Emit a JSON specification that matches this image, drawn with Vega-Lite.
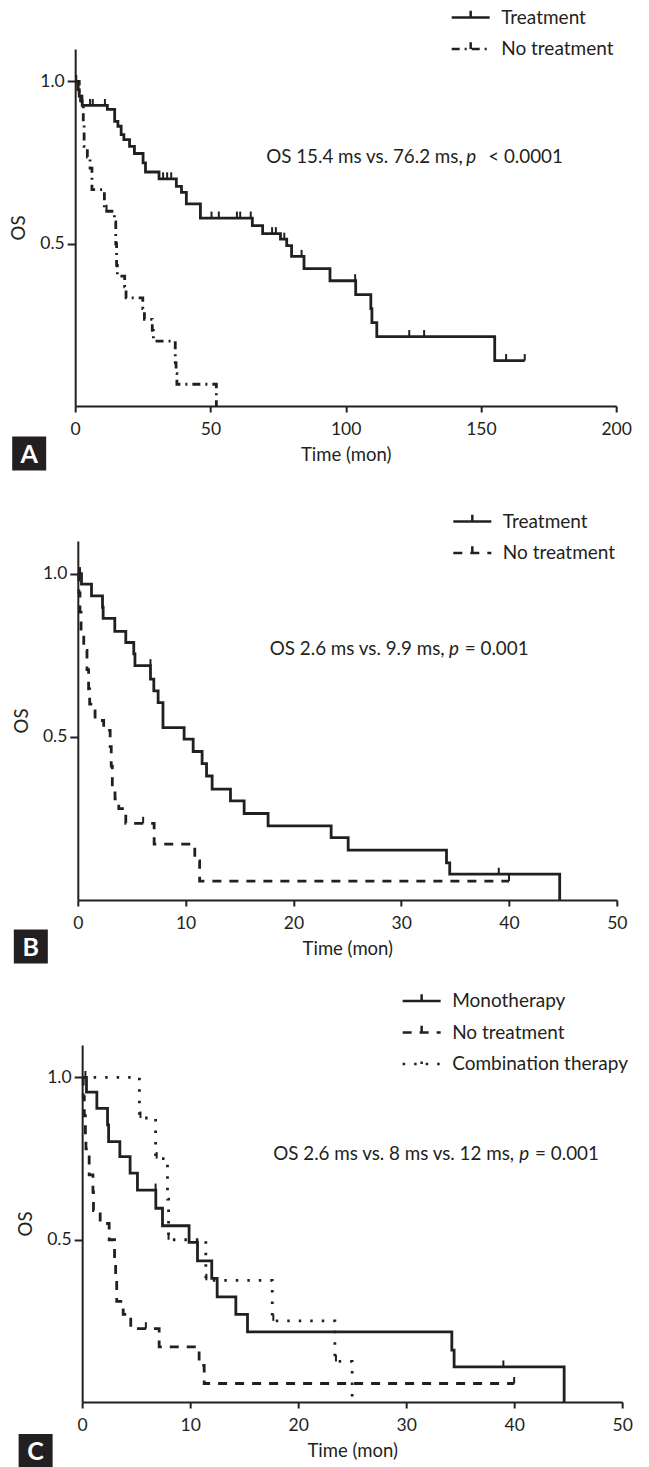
{
  "$schema": "https://vega.github.io/schema/vega-lite/v6.json",
  "background": "white",
  "padding": {"left": 2, "top": 6, "right": 0, "bottom": 0},
  "config": {
    "font": "Lato",
    "view": {"stroke": null},
    "axis": {"grid": false, "domainColor": "#231f20", "domainWidth": 2, "tickColor": "#231f20", "tickWidth": 2, "labelFont": "Lato", "labelFontSize": 17.5, "labelColor": "#231f20", "labelFlush": false, "labelOverlap": false, "titleFont": "Lato", "titleFontSize": 18.5, "titleFontWeight": "normal", "titleColor": "#231f20"},
    "axisX": {"tickSize": 6, "labelPadding": 8, "titlePadding": 8},
    "axisY": {"tickSize": 8, "labelPadding": 3, "titlePadding": 11},
    "legend": {"orient": "none", "title": null, "symbolType": "M-2,0H2M0,0V-0.7", "symbolSize": 361, "symbolStrokeWidth": 2.5, "symbolStrokeColor": "#231f20", "symbolFillColor": "transparent", "labelFont": "Lato", "labelFontSize": 19, "labelColor": "#231f20", "labelOffset": 19.5, "labelLimit": 400, "rowPadding": 9.5, "padding": 0}
  },
  "datasets": {
    "A_curve": [
      {"g": "Treatment", "t": 0, "s": 1.0}, {"g": "Treatment", "t": 1.0, "s": 0.975}, {"g": "Treatment", "t": 1.5, "s": 0.955}, {"g": "Treatment", "t": 2.0, "s": 0.94}, {"g": "Treatment", "t": 2.6, "s": 0.926},
      {"g": "Treatment", "t": 11.9, "s": 0.914}, {"g": "Treatment", "t": 14.6, "s": 0.877}, {"g": "Treatment", "t": 15.8, "s": 0.862}, {"g": "Treatment", "t": 17.0, "s": 0.836}, {"g": "Treatment", "t": 18.0, "s": 0.821},
      {"g": "Treatment", "t": 20.1, "s": 0.80}, {"g": "Treatment", "t": 21.9, "s": 0.778}, {"g": "Treatment", "t": 25.1, "s": 0.749}, {"g": "Treatment", "t": 26.0, "s": 0.721}, {"g": "Treatment", "t": 31.0, "s": 0.70},
      {"g": "Treatment", "t": 37.4, "s": 0.677}, {"g": "Treatment", "t": 39.3, "s": 0.658}, {"g": "Treatment", "t": 41.1, "s": 0.623}, {"g": "Treatment", "t": 46.3, "s": 0.579}, {"g": "Treatment", "t": 65.5, "s": 0.556},
      {"g": "Treatment", "t": 69.3, "s": 0.531}, {"g": "Treatment", "t": 75.9, "s": 0.514}, {"g": "Treatment", "t": 78.2, "s": 0.494}, {"g": "Treatment", "t": 80.0, "s": 0.461}, {"g": "Treatment", "t": 84.6, "s": 0.423},
      {"g": "Treatment", "t": 94.2, "s": 0.386}, {"g": "Treatment", "t": 103.7, "s": 0.343}, {"g": "Treatment", "t": 109.3, "s": 0.30}, {"g": "Treatment", "t": 109.7, "s": 0.257}, {"g": "Treatment", "t": 111.5, "s": 0.214},
      {"g": "Treatment", "t": 155.1, "s": 0.14}, {"g": "Treatment", "t": 166.2, "s": 0.14},
      {"g": "No treatment", "t": 0, "s": 1.0}, {"g": "No treatment", "t": 1.5, "s": 0.967}, {"g": "No treatment", "t": 2.5, "s": 0.933}, {"g": "No treatment", "t": 3.0, "s": 0.867}, {"g": "No treatment", "t": 3.3, "s": 0.80},
      {"g": "No treatment", "t": 4.5, "s": 0.767}, {"g": "No treatment", "t": 5.5, "s": 0.733}, {"g": "No treatment", "t": 6.2, "s": 0.667}, {"g": "No treatment", "t": 10.8, "s": 0.60}, {"g": "No treatment", "t": 14.5, "s": 0.567},
      {"g": "No treatment", "t": 15.0, "s": 0.50}, {"g": "No treatment", "t": 15.3, "s": 0.433}, {"g": "No treatment", "t": 15.6, "s": 0.40}, {"g": "No treatment", "t": 18.3, "s": 0.367}, {"g": "No treatment", "t": 18.8, "s": 0.333},
      {"g": "No treatment", "t": 25.0, "s": 0.30}, {"g": "No treatment", "t": 25.6, "s": 0.267}, {"g": "No treatment", "t": 28.5, "s": 0.233}, {"g": "No treatment", "t": 28.9, "s": 0.20}, {"g": "No treatment", "t": 37.0, "s": 0.133},
      {"g": "No treatment", "t": 37.3, "s": 0.10}, {"g": "No treatment", "t": 37.6, "s": 0.067}, {"g": "No treatment", "t": 52.2, "s": 0.0}
    ],
    "A_cens": [
      {"t": 0.4, "s": 1.0}, {"t": 1.2, "s": 0.975}, {"t": 5.5, "s": 0.926}, {"t": 6.5, "s": 0.926}, {"t": 11.0, "s": 0.926}, {"t": 32.5, "s": 0.70}, {"t": 34.0, "s": 0.70}, {"t": 35.5, "s": 0.70},
      {"t": 50.4, "s": 0.579}, {"t": 53.1, "s": 0.579}, {"t": 59.8, "s": 0.579}, {"t": 61.0, "s": 0.579}, {"t": 64.9, "s": 0.579}, {"t": 72.8, "s": 0.531}, {"t": 74.2, "s": 0.531}, {"t": 77.3, "s": 0.514},
      {"t": 83.7, "s": 0.461}, {"t": 103.5, "s": 0.386}, {"t": 123.5, "s": 0.214}, {"t": 129.0, "s": 0.214}, {"t": 159.3, "s": 0.14}, {"t": 166.2, "s": 0.14}, {"t": 11.6, "s": 0.60}
    ],
    "B_curve": [
      {"g": "Treatment", "t": 0, "s": 1.0}, {"g": "Treatment", "t": 0.34, "s": 0.968}, {"g": "Treatment", "t": 1.27, "s": 0.932}, {"g": "Treatment", "t": 2.29, "s": 0.897}, {"g": "Treatment", "t": 2.35, "s": 0.863},
      {"g": "Treatment", "t": 3.43, "s": 0.823}, {"g": "Treatment", "t": 4.45, "s": 0.789}, {"g": "Treatment", "t": 5.19, "s": 0.754}, {"g": "Treatment", "t": 5.3, "s": 0.718}, {"g": "Treatment", "t": 6.74, "s": 0.677},
      {"g": "Treatment", "t": 7.05, "s": 0.641}, {"g": "Treatment", "t": 7.45, "s": 0.605}, {"g": "Treatment", "t": 7.9, "s": 0.528}, {"g": "Treatment", "t": 9.86, "s": 0.493}, {"g": "Treatment", "t": 10.7, "s": 0.455},
      {"g": "Treatment", "t": 11.53, "s": 0.418}, {"g": "Treatment", "t": 11.94, "s": 0.38}, {"g": "Treatment", "t": 12.46, "s": 0.34}, {"g": "Treatment", "t": 14.16, "s": 0.304}, {"g": "Treatment", "t": 15.43, "s": 0.265},
      {"g": "Treatment", "t": 17.65, "s": 0.227}, {"g": "Treatment", "t": 23.5, "s": 0.191}, {"g": "Treatment", "t": 25.08, "s": 0.153}, {"g": "Treatment", "t": 34.2, "s": 0.114}, {"g": "Treatment", "t": 34.5, "s": 0.079},
      {"g": "Treatment", "t": 44.7, "s": 0.0},
      {"g": "No treatment", "t": 0, "s": 1.0}, {"g": "No treatment", "t": 0.1, "s": 0.941}, {"g": "No treatment", "t": 0.2, "s": 0.882}, {"g": "No treatment", "t": 0.3, "s": 0.824}, {"g": "No treatment", "t": 0.55, "s": 0.765},
      {"g": "No treatment", "t": 0.85, "s": 0.706}, {"g": "No treatment", "t": 1.0, "s": 0.647}, {"g": "No treatment", "t": 1.1, "s": 0.60}, {"g": "No treatment", "t": 1.6, "s": 0.55}, {"g": "No treatment", "t": 2.4, "s": 0.52},
      {"g": "No treatment", "t": 3.0, "s": 0.47}, {"g": "No treatment", "t": 3.1, "s": 0.41}, {"g": "No treatment", "t": 3.2, "s": 0.353}, {"g": "No treatment", "t": 3.45, "s": 0.31}, {"g": "No treatment", "t": 3.8, "s": 0.28},
      {"g": "No treatment", "t": 4.45, "s": 0.235}, {"g": "No treatment", "t": 7.08, "s": 0.171}, {"g": "No treatment", "t": 10.85, "s": 0.12}, {"g": "No treatment", "t": 11.3, "s": 0.058}, {"g": "No treatment", "t": 40.0, "s": 0.058}
    ],
    "B_cens": [
      {"t": 0.2, "s": 1.0}, {"t": 6.74, "s": 0.718}, {"t": 39.05, "s": 0.079}, {"t": 6.06, "s": 0.235}, {"t": 40.0, "s": 0.058}
    ],
    "C_curve": [
      {"g": "Monotherapy", "t": 0, "s": 1.0}, {"g": "Monotherapy", "t": 0.4, "s": 0.955}, {"g": "Monotherapy", "t": 1.36, "s": 0.905}, {"g": "Monotherapy", "t": 2.35, "s": 0.854}, {"g": "Monotherapy", "t": 2.45, "s": 0.802},
      {"g": "Monotherapy", "t": 3.49, "s": 0.756}, {"g": "Monotherapy", "t": 4.44, "s": 0.705}, {"g": "Monotherapy", "t": 5.12, "s": 0.653}, {"g": "Monotherapy", "t": 6.82, "s": 0.597}, {"g": "Monotherapy", "t": 7.44, "s": 0.543},
      {"g": "Monotherapy", "t": 9.9, "s": 0.492}, {"g": "Monotherapy", "t": 10.68, "s": 0.435}, {"g": "Monotherapy", "t": 12.0, "s": 0.381}, {"g": "Monotherapy", "t": 12.5, "s": 0.324}, {"g": "Monotherapy", "t": 14.23, "s": 0.27},
      {"g": "Monotherapy", "t": 15.31, "s": 0.216}, {"g": "Monotherapy", "t": 34.23, "s": 0.16}, {"g": "Monotherapy", "t": 34.44, "s": 0.108}, {"g": "Monotherapy", "t": 44.63, "s": 0.0},
      {"g": "No treatment", "t": 0, "s": 1.0}, {"g": "No treatment", "t": 0.1, "s": 0.941}, {"g": "No treatment", "t": 0.2, "s": 0.882}, {"g": "No treatment", "t": 0.3, "s": 0.824}, {"g": "No treatment", "t": 0.35, "s": 0.78},
      {"g": "No treatment", "t": 0.65, "s": 0.70}, {"g": "No treatment", "t": 1.0, "s": 0.647}, {"g": "No treatment", "t": 1.05, "s": 0.59}, {"g": "No treatment", "t": 1.67, "s": 0.55}, {"g": "No treatment", "t": 2.5, "s": 0.50},
      {"g": "No treatment", "t": 3.0, "s": 0.44}, {"g": "No treatment", "t": 3.1, "s": 0.38}, {"g": "No treatment", "t": 3.2, "s": 0.31}, {"g": "No treatment", "t": 3.8, "s": 0.27}, {"g": "No treatment", "t": 4.5, "s": 0.226},
      {"g": "No treatment", "t": 7.13, "s": 0.17}, {"g": "No treatment", "t": 10.83, "s": 0.113}, {"g": "No treatment", "t": 11.3, "s": 0.057}, {"g": "No treatment", "t": 40.0, "s": 0.057},
      {"g": "Combination therapy", "t": 0, "s": 1.0}, {"g": "Combination therapy", "t": 5.3, "s": 0.875}, {"g": "Combination therapy", "t": 6.8, "s": 0.75}, {"g": "Combination therapy", "t": 7.9, "s": 0.625}, {"g": "Combination therapy", "t": 8.0, "s": 0.50},
      {"g": "Combination therapy", "t": 11.45, "s": 0.375}, {"g": "Combination therapy", "t": 17.6, "s": 0.25}, {"g": "Combination therapy", "t": 23.4, "s": 0.125}, {"g": "Combination therapy", "t": 25.0, "s": 0.0}
    ],
    "C_cens": [
      {"t": 0.3, "s": 1.0}, {"t": 6.8, "s": 0.653}, {"t": 39.0, "s": 0.108}, {"t": 5.9, "s": 0.226}, {"t": 40.0, "s": 0.057},
      {"t": 5.4, "s": 0.875}, {"t": 6.9, "s": 0.75}, {"t": 8.0, "s": 0.50}, {"t": 11.5, "s": 0.375}, {"t": 17.7, "s": 0.25}, {"t": 23.5, "s": 0.125}
    ]
  },
  "columns": 1,
  "center": true,
  "spacing": 26,
  "resolve": {"scale": {"x": "independent", "y": "independent", "strokeDash": "independent"}, "legend": {"strokeDash": "independent"}, "axis": {"x": "independent", "y": "independent"}},
  "concat": [
    {
      "width": 541, "height": 357,
      "layer": [
        {
          "data": {"name": "A_curve"},
          "mark": {"type": "line", "interpolate": "step-after", "strokeWidth": 2.8, "color": "#231f20"},
          "encoding": {
            "x": {"field": "t", "type": "quantitative", "scale": {"domain": [0, 200], "nice": false}, "axis": {"values": [0, 50, 100, 150, 200], "title": "Time (mon)"}},
            "y": {"field": "s", "type": "quantitative", "scale": {"domain": [0, 1.1], "nice": false}, "axis": {"values": [0.5, 1.0], "format": ".1f", "title": "OS"}},
            "strokeDash": {"field": "g", "type": "nominal", "scale": {"domain": ["Treatment", "No treatment"], "range": [[1, 0], [8, 5, 2, 5]]}, "legend": {"legendX": 384.5, "legendY": -42.5}}
          }
        },
        {
          "data": {"name": "A_cens"},
          "mark": {"type": "point", "shape": "M0,0V-1", "size": 169, "filled": false, "strokeWidth": 2, "color": "#231f20", "opacity": 1},
          "encoding": {"x": {"field": "t", "type": "quantitative"}, "y": {"field": "s", "type": "quantitative"}}
        },
        {
          "data": {"values": [{}]},
          "mark": {"type": "text", "align": "left", "baseline": "alphabetic", "fontSize": 18.8, "color": "#231f20", "text": "OS 15.4 ms vs. 76.2 ms,"},
          "encoding": {"x": {"datum": 70.6}, "y": {"datum": 0.749}}
        },
        {
          "data": {"values": [{}]},
          "mark": {"type": "text", "align": "center", "baseline": "alphabetic", "fontSize": 18.8, "fontStyle": "italic", "color": "#231f20", "text": "p"},
          "encoding": {"x": {"datum": 146.4}, "y": {"datum": 0.749}}
        },
        {
          "data": {"values": [{}]},
          "mark": {"type": "text", "align": "left", "baseline": "alphabetic", "fontSize": 18.8, "color": "#231f20", "text": "<  0.0001"},
          "encoding": {"x": {"datum": 152.7}, "y": {"datum": 0.749}}
        },
        {
          "data": {"values": [{}]},
          "mark": {"type": "point", "shape": "square", "size": 1156, "filled": true, "color": "#231f20", "opacity": 1},
          "encoding": {"x": {"datum": -17.0}, "y": {"datum": -0.1464}}
        },
        {
          "data": {"values": [{}]},
          "mark": {"type": "text", "align": "center", "baseline": "middle", "fontSize": 25, "fontWeight": "bold", "color": "white", "text": "A", "dy": 1},
          "encoding": {"x": {"datum": -17.0}, "y": {"datum": -0.1464}}
        },
        {
          "data": {"values": [{"t": -26.6, "s": -0.237}, {"t": 210.7, "s": 0.5}]},
          "mark": {"type": "point", "shape": "square", "size": 2, "filled": true, "color": "white", "opacity": 1},
          "encoding": {"x": {"field": "t", "type": "quantitative"}, "y": {"field": "s", "type": "quantitative"}}
        }
      ]
    },
    {
      "width": 539, "height": 359,
      "layer": [
        {
          "data": {"name": "B_curve"},
          "mark": {"type": "line", "interpolate": "step-after", "strokeWidth": 2.8, "color": "#231f20"},
          "encoding": {
            "x": {"field": "t", "type": "quantitative", "scale": {"domain": [0, 50], "nice": false}, "axis": {"values": [0, 10, 20, 30, 40, 50], "title": "Time (mon)"}},
            "y": {"field": "s", "type": "quantitative", "scale": {"domain": [0, 1.1], "nice": false}, "axis": {"values": [0.5, 1.0], "format": ".1f", "title": "OS"}},
            "strokeDash": {"field": "g", "type": "nominal", "scale": {"domain": ["Treatment", "No treatment"], "range": [[1, 0], [9, 8]]}, "legend": {"legendX": 383.5, "legendY": -30.5}}
          }
        },
        {
          "data": {"name": "B_cens"},
          "mark": {"type": "point", "shape": "M0,0V-1", "size": 169, "filled": false, "strokeWidth": 2, "color": "#231f20", "opacity": 1},
          "encoding": {"x": {"field": "t", "type": "quantitative"}, "y": {"field": "s", "type": "quantitative"}}
        },
        {
          "data": {"values": [{}]},
          "mark": {"type": "text", "align": "left", "baseline": "alphabetic", "fontSize": 18.8, "color": "#231f20", "text": "OS 2.6 ms vs. 9.9 ms,"},
          "encoding": {"x": {"datum": 17.81}, "y": {"datum": 0.752}}
        },
        {
          "data": {"values": [{}]},
          "mark": {"type": "text", "align": "center", "baseline": "alphabetic", "fontSize": 18.8, "fontStyle": "italic", "color": "#231f20", "text": "p"},
          "encoding": {"x": {"datum": 34.9}, "y": {"datum": 0.752}}
        },
        {
          "data": {"values": [{}]},
          "mark": {"type": "text", "align": "left", "baseline": "alphabetic", "fontSize": 18.8, "color": "#231f20", "text": "= 0.001"},
          "encoding": {"x": {"datum": 35.9}, "y": {"datum": 0.752}}
        },
        {
          "data": {"values": [{}]},
          "mark": {"type": "point", "shape": "square", "size": 1156, "filled": true, "color": "#231f20", "opacity": 1},
          "encoding": {"x": {"datum": -4.36}, "y": {"datum": -0.1425}}
        },
        {
          "data": {"values": [{}]},
          "mark": {"type": "text", "align": "center", "baseline": "middle", "fontSize": 25, "fontWeight": "bold", "color": "white", "text": "B", "dy": 1},
          "encoding": {"x": {"datum": -4.36}, "y": {"datum": -0.1425}}
        },
        {
          "data": {"values": [{"t": -6.68, "s": 0.5}, {"t": 52.38, "s": 0.5}]},
          "mark": {"type": "point", "shape": "square", "size": 2, "filled": true, "color": "white", "opacity": 1},
          "encoding": {"x": {"field": "t", "type": "quantitative"}, "y": {"field": "s", "type": "quantitative"}}
        }
      ]
    },
    {
      "width": 540, "height": 357,
      "layer": [
        {
          "data": {"name": "C_curve"},
          "mark": {"type": "line", "interpolate": "step-after", "strokeWidth": 2.8, "color": "#231f20"},
          "encoding": {
            "x": {"field": "t", "type": "quantitative", "scale": {"domain": [0, 50], "nice": false}, "axis": {"values": [0, 10, 20, 30, 40, 50], "title": "Time (mon)"}},
            "y": {"field": "s", "type": "quantitative", "scale": {"domain": [0, 1.1], "nice": false}, "axis": {"values": [0.5, 1.0], "format": ".1f", "title": "OS"}},
            "strokeDash": {"field": "g", "type": "nominal", "scale": {"domain": ["Monotherapy", "No treatment", "Combination therapy"], "range": [[1, 0], [9, 8], [2.5, 9]]}, "legend": {"legendX": 328.5, "legendY": -55}}
          }
        },
        {
          "data": {"name": "C_cens"},
          "mark": {"type": "point", "shape": "M0,0V-1", "size": 169, "filled": false, "strokeWidth": 2, "color": "#231f20", "opacity": 1},
          "encoding": {"x": {"field": "t", "type": "quantitative"}, "y": {"field": "s", "type": "quantitative"}}
        },
        {
          "data": {"values": [{}]},
          "mark": {"type": "text", "align": "left", "baseline": "alphabetic", "fontSize": 18.8, "color": "#231f20", "text": "OS 2.6 ms vs. 8 ms vs. 12 ms,"},
          "encoding": {"x": {"datum": 17.69}, "y": {"datum": 0.746}}
        },
        {
          "data": {"values": [{}]},
          "mark": {"type": "text", "align": "center", "baseline": "middle", "fontSize": 18.8, "fontStyle": "italic", "color": "#231f20", "text": "p", "baseline": "alphabetic"},
          "encoding": {"x": {"datum": 40.93}, "y": {"datum": 0.746}}
        },
        {
          "data": {"values": [{}]},
          "mark": {"type": "text", "align": "left", "baseline": "alphabetic", "fontSize": 18.8, "color": "#231f20", "text": "= 0.001"},
          "encoding": {"x": {"datum": 41.94}, "y": {"datum": 0.746}}
        },
        {
          "data": {"values": [{}]},
          "mark": {"type": "point", "shape": "square", "size": 1156, "filled": true, "color": "#231f20", "opacity": 1},
          "encoding": {"x": {"datum": -4.31}, "y": {"datum": -0.151}}
        },
        {
          "data": {"values": [{}]},
          "mark": {"type": "text", "align": "center", "baseline": "middle", "fontSize": 25, "fontWeight": "bold", "color": "white", "text": "C", "dy": 1},
          "encoding": {"x": {"datum": -4.31}, "y": {"datum": -0.151}}
        },
        {
          "data": {"values": [{"t": -6.67, "s": 0.5}, {"t": 51.48, "s": 0.5}]},
          "mark": {"type": "point", "shape": "square", "size": 2, "filled": true, "color": "white", "opacity": 1},
          "encoding": {"x": {"field": "t", "type": "quantitative"}, "y": {"field": "s", "type": "quantitative"}}
        }
      ]
    }
  ]
}
